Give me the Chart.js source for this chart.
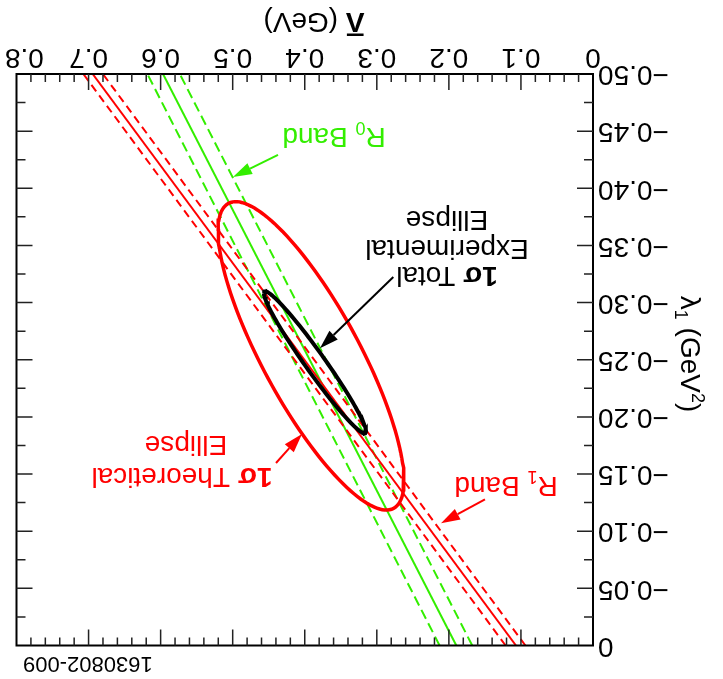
<!DOCTYPE html>
<html>
<head>
<meta charset="utf-8">
<script src="https://cdn.jsdelivr.net/npm/chart.js@4.4.0/dist/chart.umd.min.js"></script>
<style>
  html, body { margin: 0; padding: 0; background: #fff; }
  #wrap { width: 723px; height: 679px; }
  /* the figure is scanned upside down */
  #plot { transform: rotate(180deg); }
</style>
</head>
<body>
<div id="wrap"><canvas id="plot" width="723" height="679"></canvas></div>
<script>
// Lambda-bar (GeV) on x, lambda1 (GeV^2) on y
const xTicks = [0, 0.1, 0.2, 0.3, 0.4, 0.5, 0.6, 0.7, 0.8];
const xTickLabels = ['0', '0.1', '0.2', '0.3', '0.4', '0.5', '0.6', '0.7', '0.8  '];
const yTicks = [-0.5, -0.45, -0.4, -0.35, -0.3, -0.25, -0.2, -0.15, -0.1, -0.05, 0];
const yTickLabels = ['\u22120.50', '\u22120.45', '\u22120.40', '\u22120.35', '\u22120.30', '\u22120.25',
                     '\u22120.20', '\u22120.15', '\u22120.10', '\u22120.05', '0'];

// band lines: x value at lambda1 = 0 and at lambda1 = -0.5
const bandY = [0, -0.5];
const r1Upper = [0.1213, 0.7072];
const r1Center = [0.1069, 0.6943];
const r1Lower = [0.0938, 0.6801];
const r0Upper = [0.2129, 0.6184];
const r0Center = [0.1897, 0.5967];
const r0Lower = [0.1676, 0.5734];

// 1 sigma ellipses: centre x, centre y, sigma x, sigma y, correlation
const theoEllipse = [0.3913, -0.2534, 0.1290, 0.1349, -0.81];
const expEllipse = [0.3858, -0.2476, 0.0708, 0.0621, -0.972];

const RED = '#ff0000';
const GREEN = '#33ee00';
const FONT = '"Liberation Sans", Arial, sans-serif';

function band(xs, color, dash) {
  return {
    data: xs.map((v, i) => ({x: v, y: bandY[i]})),
    borderColor: color, borderWidth: 2, borderDash: dash,
    showLine: true, pointRadius: 0, fill: false, order: 3
  };
}

function ellipse(e, color, w) {
  const [cx, cy, sx, sy, rho] = e;
  const pts = [];
  for (let k = 0; k <= 144; k++) {
    const t = k / 144 * 2 * Math.PI;
    pts.push({x: cx + sx * Math.cos(t),
              y: cy + sy * (rho * Math.cos(t) + Math.sqrt(1 - rho * rho) * Math.sin(t))});
  }
  return {data: pts, borderColor: color, borderWidth: w, showLine: true,
          pointRadius: 0, fill: false, order: 1};
}

function rich(ctx, parts, cx, cy) {
  let w = 0;
  parts.forEach(p => { ctx.font = p.f; p.w = ctx.measureText(p.t).width; w += p.w; });
  let xx = cx - w / 2;
  ctx.textAlign = 'left';
  ctx.textBaseline = 'alphabetic';
  parts.forEach(p => { ctx.font = p.f; ctx.fillText(p.t, xx, cy + 10 + (p.dy || 0)); xx += p.w; });
  return {left: cx - w / 2, width: w};
}

function arrow(ctx, x1, y1, x2, y2, color) {
  const a = Math.atan2(y2 - y1, x2 - x1), L = 19, W = 6;
  const bx = x2 - L * Math.cos(a), by = y2 - L * Math.sin(a);
  ctx.strokeStyle = color; ctx.fillStyle = color; ctx.lineWidth = 2;
  ctx.beginPath(); ctx.moveTo(x1, y1); ctx.lineTo(bx, by); ctx.stroke();
  ctx.beginPath();
  ctx.moveTo(x2, y2);
  ctx.lineTo(bx + W * Math.sin(a), by - W * Math.cos(a));
  ctx.lineTo(bx - W * Math.sin(a), by + W * Math.cos(a));
  ctx.closePath(); ctx.fill();
}

const F = '28px ' + FONT, FB = 'bold 28px ' + FONT, FS = '18px ' + FONT;

const decor = {
  id: 'decor',
  afterDatasetsDraw(chart) {
    const {ctx, chartArea: a, scales: {x, y}} = chart;
    const px = v => x.getPixelForValue(v), py = v => y.getPixelForValue(v);
    ctx.save();

    // frame + inward ticks on all four sides
    ctx.strokeStyle = '#000';
    ctx.lineWidth = 2;
    ctx.strokeRect(a.left, a.top, a.right - a.left, a.bottom - a.top);
    ctx.lineWidth = 1.5;
    ctx.strokeStyle = '#222';
    ctx.beginPath();
    for (let i = 1; i < 40; i++) {
      const X = px(i * 0.02), len = i % 5 === 0 ? 16 : 8;
      ctx.moveTo(X, a.bottom); ctx.lineTo(X, a.bottom - len);
      ctx.moveTo(X, a.top); ctx.lineTo(X, a.top + len);
    }
    for (let i = 1; i < 20; i++) {
      const Y = py(-i * 0.025), len = i % 2 === 0 ? 16 : 9;
      ctx.moveTo(a.left, Y); ctx.lineTo(a.left + len, Y);
      ctx.moveTo(a.right, Y); ctx.lineTo(a.right - len, Y);
    }
    ctx.stroke();

    // R0 band label
    ctx.fillStyle = GREEN;
    rich(ctx, [{t: 'R', f: F}, {t: '0', f: FS, dy: 6}, {t: ' Band', f: F}], px(0.3594), py(-0.4436));
    arrow(ctx, px(0.4371), py(-0.4292), px(0.4996), py(-0.4099), GREEN);

    // R1 band label
    ctx.fillStyle = RED;
    rich(ctx, [{t: 'R', f: F}, {t: '1', f: FS, dy: 6}, {t: ' Band', f: F}], px(0.1207), py(-0.1387));
    arrow(ctx, px(0.1499), py(-0.1279), px(0.2109), py(-0.1069), RED);

    // theoretical ellipse label
    ctx.fillStyle = RED;
    rich(ctx, [{t: '1\u03c3', f: FB}, {t: ' Theoretical', f: F}], px(0.5704), py(-0.1465));
    rich(ctx, [{t: 'Ellipse', f: F}], px(0.5648), py(-0.1745));
    arrow(ctx, px(0.4399), py(-0.1597), px(0.4038), py(-0.185), RED);

    // experimental ellipse label
    ctx.fillStyle = '#000';
    rich(ctx, [{t: '1\u03c3', f: FB}, {t: ' Total', f: F}], px(0.2026), py(-0.3224));
    rich(ctx, [{t: 'Experimental', f: F}], px(0.2026), py(-0.346));
    rich(ctx, [{t: 'Ellipse', f: F}], px(0.2026), py(-0.3714));
    arrow(ctx, px(0.2771), py(-0.3224), px(0.3789), py(-0.26), '#000');

    // axis titles
    ctx.fillStyle = '#000';
    const t = rich(ctx, [{t: '\u039b', f: FB}, {t: ' (GeV)', f: F}], 409, 656);
    ctx.font = FB;
    const lw = ctx.measureText('\u039b').width;
    ctx.fillRect(t.left + 1, 643, lw - 2, 2.5);

    ctx.save();
    ctx.translate(32, 325);
    ctx.rotate(-Math.PI / 2);
    rich(ctx, [{t: '\u03bb', f: F}, {t: '1', f: FS, dy: 6}, {t: ' (GeV', f: F},
               {t: '2', f: FS, dy: -11}, {t: ')', f: F}], 0, 0);
    ctx.restore();

    // figure id
    ctx.font = '22px ' + FONT;
    ctx.textAlign = 'right';
    ctx.textBaseline = 'middle';
    ctx.fillText('1630802-009', 700, 16);
    ctx.restore();
  }
};

Chart.defaults.font.family = FONT;
Chart.defaults.color = '#000';

let ctx = document.getElementById('plot');
let chart = new Chart(ctx, {
  type: 'scatter',
  data: {
    datasets: [
      ellipse(expEllipse, '#000', 4),
      ellipse(theoEllipse, RED, 3.5),
      band(r1Upper, RED, [8, 5]),
      band(r1Center, RED, []),
      band(r1Lower, RED, [8, 5]),
      band(r0Upper, GREEN, [10, 5]),
      band(r0Center, GREEN, []),
      band(r0Lower, GREEN, [10, 5])
    ]
  },
  options: {
    responsive: false,
    animation: false,
    layout: {padding: {top: 33.5, right: 16.5, bottom: 0, left: 0}},
    plugins: {legend: {display: false}, tooltip: {enabled: false}},
    scales: {
      x: {
        type: 'linear', min: 0, max: 0.8,
        grid: {display: false, drawTicks: false},
        border: {display: false},
        afterBuildTicks: s => { s.ticks = xTicks.map(v => ({value: v})); },
        afterFit: s => { s.height = 74; s.paddingLeft = 0; s.paddingRight = 0; },
        ticks: {
          font: {size: 28}, padding: 0, maxRotation: 0, autoSkip: false,
          callback: (v, i) => xTickLabels[i]
        }
      },
      y: {
        type: 'linear', min: -0.5, max: 0,
        grid: {display: false, drawTicks: false},
        border: {display: false},
        afterBuildTicks: s => { s.ticks = yTicks.map(v => ({value: v})); },
        afterFit: s => { s.width = 130; s.paddingTop = 0; s.paddingBottom = 0; },
        ticks: {
          font: {size: 28}, padding: 5, autoSkip: false,
          callback: (v, i) => yTickLabels[i]
        }
      }
    }
  },
  plugins: [decor]
});
</script>
</body>
</html>
